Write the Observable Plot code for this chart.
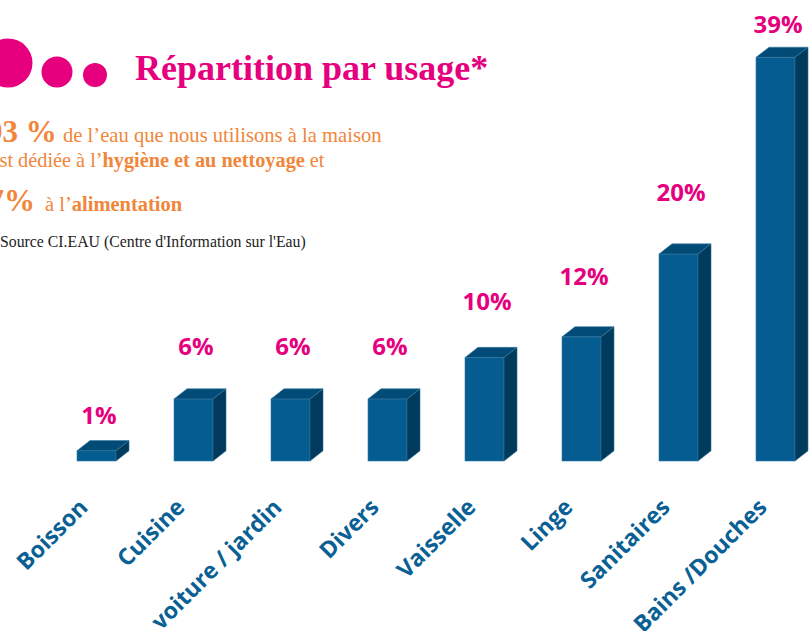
<!DOCTYPE html>
<html><head><meta charset="utf-8">
<script src="https://cdn.jsdelivr.net/npm/d3@7"></script>
<script src="https://cdn.jsdelivr.net/npm/@observablehq/plot@0.6"></script>
<style>
body{margin:0;background:#fff}
#wrap{position:relative;width:809px;height:631px;overflow:hidden;background:#fff}
#wrap > svg{position:absolute;left:0;top:0}
</style></head><body><div id="wrap"></div>
<script>
const categories = ["Boisson","Cuisine","voiture / jardin","Divers","Vaisselle","Linge","Sanitaires","Bains /Douches"];
const shares = [1, 6, 6, 6, 10, 12, 20, 39];
const valueLabels = ["1%","6%","6%","6%","10%","12%","20%","39%"];
const titleText = "Répartition par usage*";
const sourceText = "Source CI.EAU (Centre d'Information sur l'Eau)";

const data = categories.map((c, i) => ({usage: c, share: shares[i], label: valueLabels[i]}));

// styling (not data): vertical lift of each value label above its bar, in pixels
const labelLift = [-35, -52, -52, -52, -56, -60, -61, -33];

const FRONT = "#045c91", TOP = "#024b77", SIDE = "#003b5d", MAGENTA = "#e6007e", ORANGE = "#f1863a", BLUE_TXT = "#0a5f94";

const plot = Plot.plot({
  width: 809, height: 631,
  marginLeft: 75, marginRight: 12.5, marginTop: 47, marginBottom: 170,
  x: {type: "band", domain: categories, paddingInner: 0.6, paddingOuter: 0, axis: null},
  y: {domain: [0, 40], axis: null},
  style: {background: "transparent", overflow: "visible"},
  marks: [
    Plot.barY(data, {x: "usage", y: "share", fill: FRONT}),
    ...data.map((d, i) => Plot.text([d], {x: "usage", y: "share", text: "label", dy: labelLift[i], dx: 2, fill: MAGENTA,
      fontSize: 24, fontWeight: "bold", fontFamily: "Open Sans"})),
    Plot.text(data, {x: "usage", y: 0, text: "usage", rotate: -45, textAnchor: "end", dx: -13, dy: 42,
      fill: BLUE_TXT, fontSize: 23, fontWeight: "bold", fontFamily: "Open Sans"})
  ]
});

// add 3D top & side faces derived from the bars Plot drew
const ns = "http://www.w3.org/2000/svg";
const barGroup = plot.querySelector('g[aria-label="bar"]');
if (barGroup) {
  barGroup.querySelectorAll("rect").forEach(r => {
    const x = +r.getAttribute("x"), y = +r.getAttribute("y");
    const w = +r.getAttribute("width"), h = +r.getAttribute("height");
    const ox = w / 3, oy = -w * 0.26;
    const top = document.createElementNS(ns, "polygon");
    top.setAttribute("points", `${x},${y} ${x + w},${y} ${x + w + ox},${y + oy} ${x + ox},${y + oy}`);
    top.setAttribute("fill", TOP);
    top.setAttribute("stroke", "#3a7aa3"); top.setAttribute("stroke-width", "0.6"); top.setAttribute("stroke-linejoin", "round");
    const side = document.createElementNS(ns, "polygon");
    side.setAttribute("points", `${x + w},${y} ${x + w + ox},${y + oy} ${x + w + ox},${y + h + oy} ${x + w},${y + h}`);
    side.setAttribute("fill", SIDE);
    side.setAttribute("stroke", "#2f6f96"); side.setAttribute("stroke-width", "0.6"); side.setAttribute("stroke-linejoin", "round");
    barGroup.appendChild(side);
    barGroup.appendChild(top);
    r.setAttribute("stroke", "#3a7aa3"); r.setAttribute("stroke-width", "0.6");
  });
}
document.getElementById("wrap").appendChild(plot);

// header overlay
const head = document.createElementNS(ns, "svg");
head.setAttribute("width", 809); head.setAttribute("height", 260);
head.innerHTML = `
  <circle cx="8" cy="63" r="24.5" fill="${MAGENTA}"/>
  <circle cx="57" cy="72" r="15.5" fill="${MAGENTA}"/>
  <circle cx="95" cy="75" r="12" fill="${MAGENTA}"/>
  <text x="135" y="80" font-family="Liberation Serif" font-weight="bold" font-size="36" fill="${MAGENTA}">${titleText}</text>
  <g font-family="Liberation Serif" fill="${ORANGE}">
    <text y="142"><tspan x="-13" font-size="31" font-weight="bold">93 %</tspan><tspan x="63" font-size="20.6">de l’eau que nous utilisons à la maison</tspan></text>
    <text y="167" font-size="20.3"><tspan x="-9.5">est dédiée à l’</tspan><tspan font-weight="bold">hygiène et au nettoyage</tspan><tspan> et</tspan></text>
    <text y="211"><tspan x="-11.5" font-size="31" font-weight="bold">7%</tspan><tspan x="45" font-size="20.5">à l’</tspan><tspan font-size="20.5" font-weight="bold">alimentation</tspan></text>
  </g>
  <text x="0" y="247" font-family="Liberation Serif" font-size="15.8" fill="#222">${sourceText}</text>
`;
document.getElementById("wrap").appendChild(head);
</script>
</body></html>
